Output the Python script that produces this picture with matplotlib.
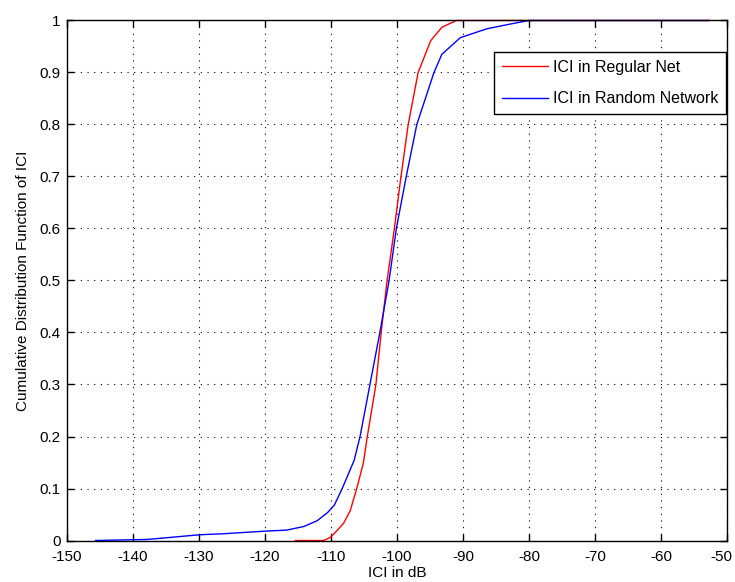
import matplotlib
matplotlib.use("Agg")
import matplotlib.pyplot as plt
from matplotlib.transforms import ScaledTranslation

# CDF of ICI
regular_x = [-115.4, -111.1, -110.1, -109.1, -108.1, -107.1, -106.1, -105.1, -104.5,
             -103.2, -102.4, -101.5, -100.4, -99.4, -98.3, -96.8, -94.9, -93.2,
             -91.0, -85.0, -52.7]
regular_y = [0, 0, 0.006, 0.019, 0.033, 0.057, 0.1, 0.149, 0.2,
             0.3, 0.4, 0.5, 0.6, 0.7, 0.8, 0.9, 0.961, 0.987,
             1, 1, 1]

random_x = [-145.7, -138.0, -137.0, -134.3, -130.0, -126.3, -120.0, -116.7, -114.1,
            -112.1, -110.5, -109.5, -108.3, -107.3, -106.5, -105.6, -104.1, -102.6,
            -101.2, -100.1, -98.6, -97.0, -94.4, -93.2, -90.4, -86.4, -82.9, -80.0, -52.7]
random_y = [0, 0.002, 0.003, 0.006, 0.011, 0.013, 0.018, 0.020, 0.027,
            0.038, 0.054, 0.068, 0.1, 0.13, 0.154, 0.2, 0.3, 0.4,
            0.5, 0.6, 0.7, 0.8, 0.9, 0.935, 0.967, 0.984, 0.993, 1.0, 1.0]

xticks = [-150, -140, -130, -120, -110, -100, -90, -80, -70, -60, -50]
yticks = [0, 0.1, 0.2, 0.3, 0.4, 0.5, 0.6, 0.7, 0.8, 0.9, 1]
ytick_labels = ['0', '0.1', '0.2', '0.3', '0.4', '0.5', '0.6', '0.7', '0.8', '0.9', '1']

plt.rcParams['font.family'] = ['Liberation Sans', 'DejaVu Sans']
plt.rcParams['font.size'] = 11
plt.rcParams['axes.unicode_minus'] = False

fig = plt.figure(figsize=(7.35, 5.82), dpi=100)
ax = fig.add_axes([0.0912, 0.0713, 0.8979, 0.8935])

ax.plot(regular_x, regular_y, color='#ff0000', lw=1.0, label='ICI in Regular Net', clip_on=False)
ax.plot(random_x, random_y, color='#0000ff', lw=1.0, label='ICI in Random Network', clip_on=False)

ax.set_xlim(-150, -50)
ax.set_ylim(0, 1)
ax.set_xticks(xticks)
ax.set_yticks(yticks)
ax.set_yticklabels(ytick_labels)
ax.tick_params(direction='in', length=5, width=1, top=True, right=True)
ax.tick_params(axis='x', pad=7)
ax.tick_params(axis='y', pad=4.5)
for s in ax.spines.values():
    s.set_linewidth(1.0)

# last x label sits inside the figure edge, like the original
fig.canvas.draw()
last = ax.get_xticklabels()[-1]
last.set_horizontalalignment('right')
last.set_transform(last.get_transform() + ScaledTranslation(5 / 100, 0, fig.dpi_scale_trans))

ax.grid(True, color='black', linestyle=(0, (1, 5)), linewidth=0.8)

ax.set_xlabel('ICI in dB', labelpad=1)
ax.set_ylabel('Cumulative Distribution Function of ICI', labelpad=7)

leg = ax.legend(loc='upper right', bbox_to_anchor=(0.9985, 0.94), fancybox=False,
                edgecolor='black', framealpha=1, handlelength=2.9, handletextpad=0.3,
                labelspacing=1.05, borderpad=0.5, borderaxespad=0, fontsize=11.5)
leg.get_frame().set_linewidth(1.0)

fig.savefig('out.png', dpi=100)
